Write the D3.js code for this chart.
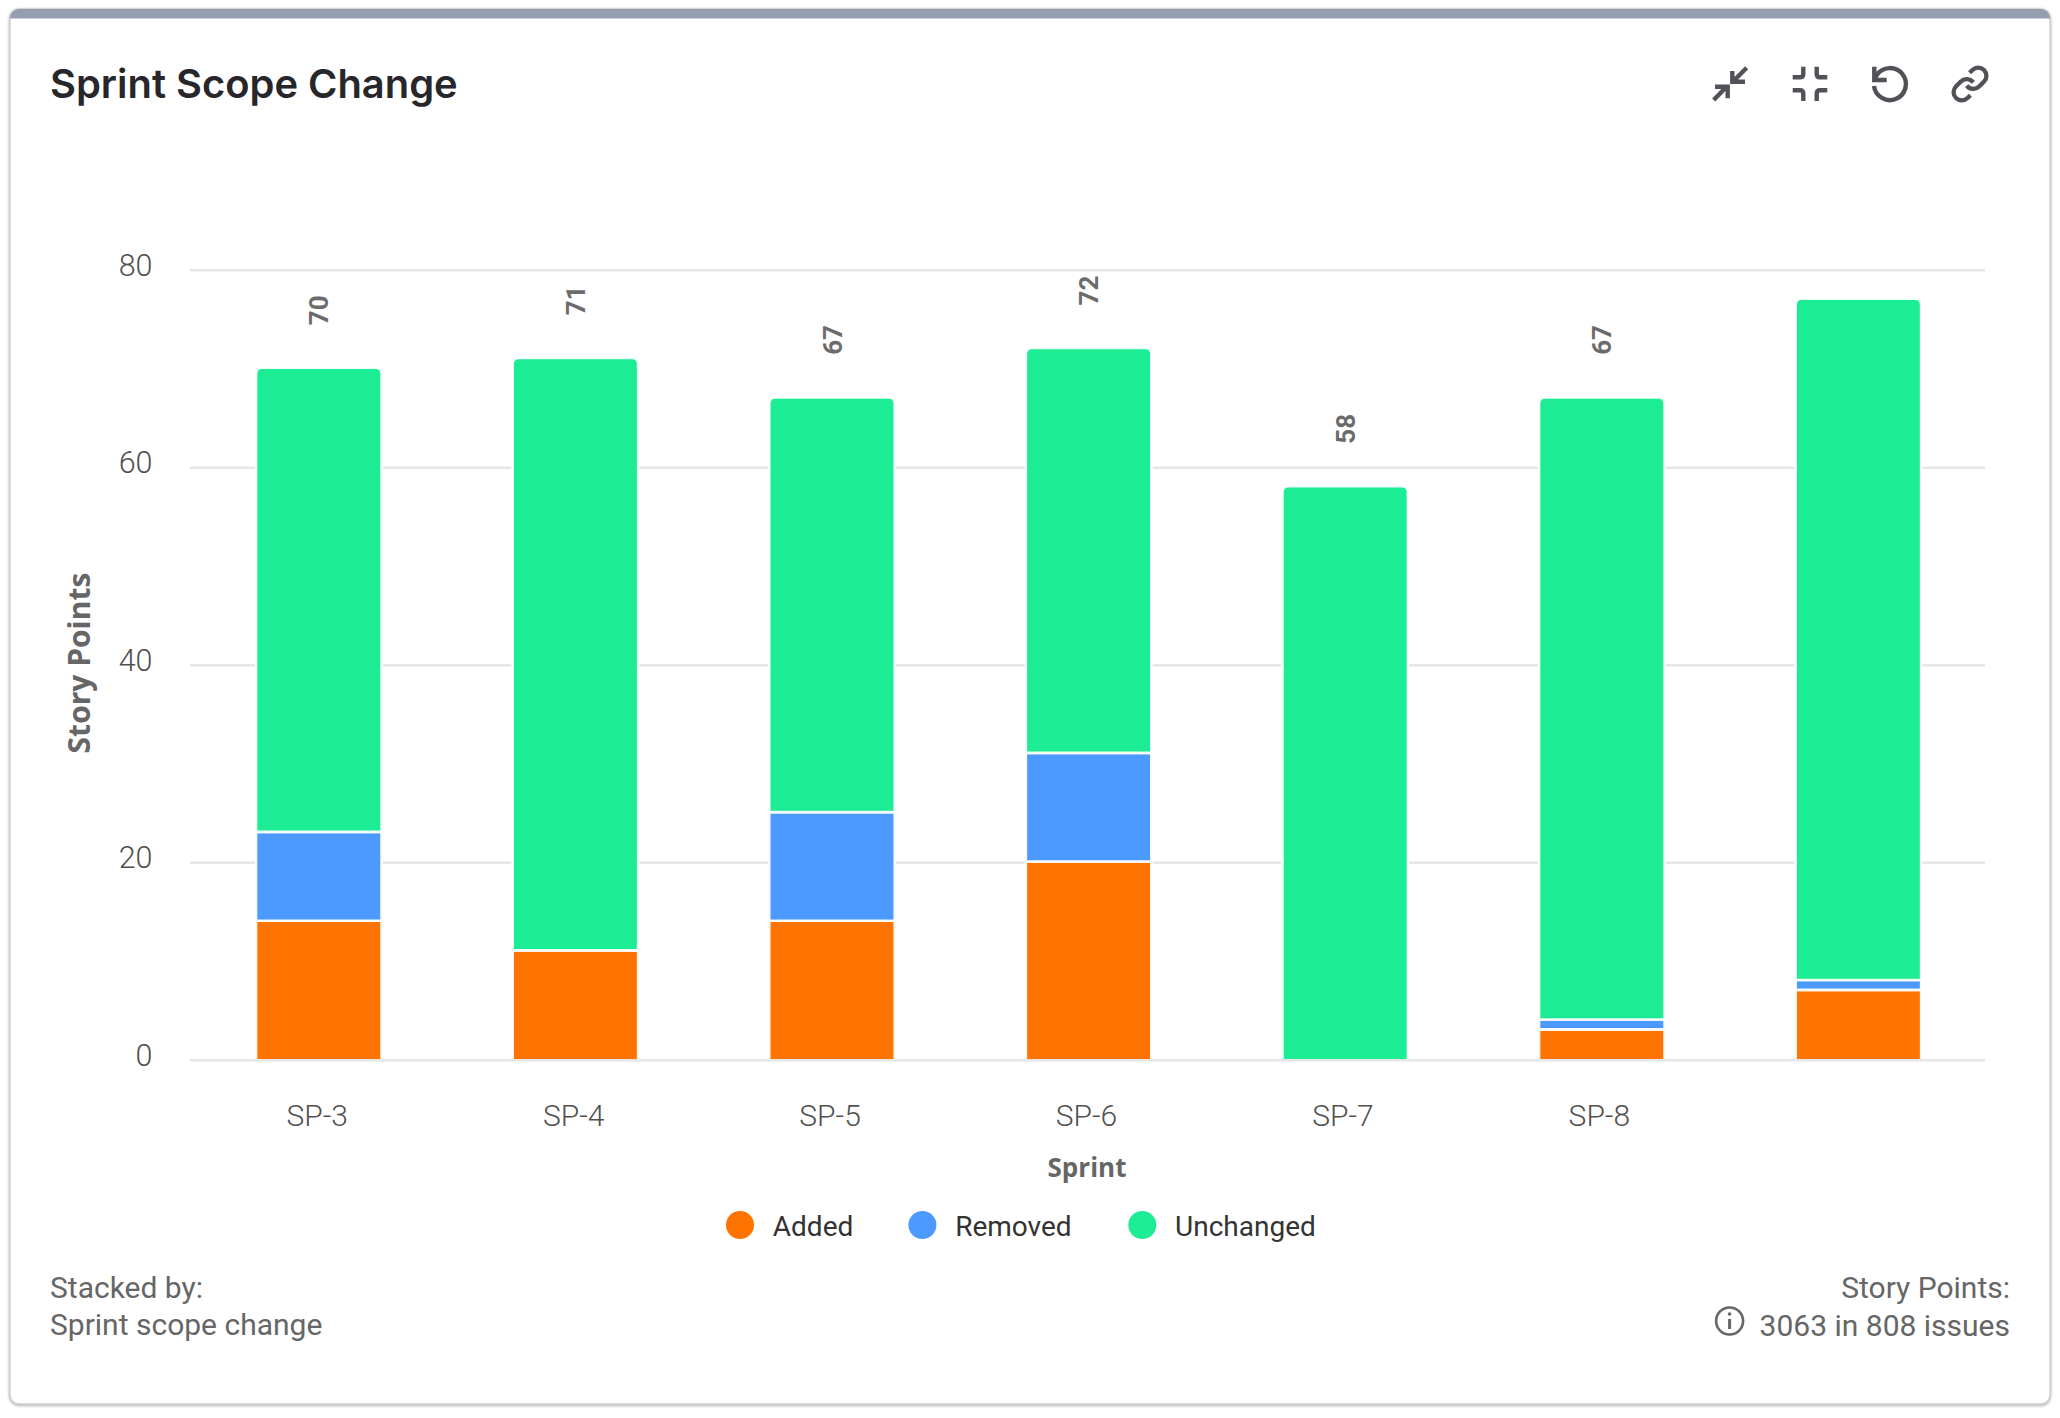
<!DOCTYPE html>
<html>
<head>
<meta charset="utf-8">
<script src="https://cdn.jsdelivr.net/npm/d3@7"></script>
<style>
html,body{margin:0;padding:0;background:#fff}
svg{display:block}
</style>
</head>
<body>
<svg id="chart" width="2060" height="1418"></svg>
<script>
const categories = ["SP-3","SP-4","SP-5","SP-6","SP-7","SP-8",""];
const added     = [14,11,14,20,0,3,7];
const removed   = [9,0,11,11,0,1,1];
const unchanged = [47,60,42,41,58,63,69];
const totalLabels = [70,71,67,72,58,67,null];
const yTicks = [0,20,40,60,80];
const seriesNames = ["Added","Removed","Unchanged"];
const seriesColors = ["#ff7300","#4c9aff","#1cec93"];

const W = 2060, H = 1418;
const svg = d3.select("#chart");
const ROBOTO = "Roboto, sans-serif";

// card
const defs = svg.append("defs");
defs.append("clipPath").attr("id","card-clip").append("rect")
  .attr("x",10).attr("y",9).attr("width",2040).attr("height",1395).attr("rx",9);
svg.append("rect").attr("x",10).attr("y",9).attr("width",2040).attr("height",1395).attr("rx",9)
  .attr("fill","#fff").attr("stroke","#d2d2d2").attr("stroke-width",1.5)
  .style("filter","drop-shadow(0 1.5px 1.5px rgba(0,0,0,.35))");
svg.append("rect").attr("x",9).attr("y",9).attr("width",2042).attr("height",9.5)
  .attr("fill","#959eae").attr("clip-path","url(#card-clip)");

// title
svg.append("text").attr("x",50).attr("y",98).text("Sprint Scope Change")
  .attr("font-family","Inter, sans-serif").attr("font-weight",600).attr("font-size",39.9).attr("fill","#26262b");

// scales
const x = d3.scaleBand().domain(d3.range(categories.length)).range([190,1985]).paddingInner(0.511).paddingOuter(0.2555);
const xBars = d3.scaleBand().domain(d3.range(categories.length)).range([190.5,1986.7]).paddingInner(0.511).paddingOuter(0.2555);
const y = d3.scaleLinear().domain([0,80]).range([1060.3,270.3]);

// grid
const gridG = svg.append("g");
gridG.selectAll("line").data(yTicks.filter(d=>d>0)).join("line")
  .attr("x1",190).attr("x2",1985).attr("y1",d=>y(d)).attr("y2",d=>y(d))
  .attr("stroke","#e6e6e6").attr("stroke-width",2.6);

// stacked bars
const rows = categories.map((c,i)=>({i,Added:added[i],Removed:removed[i],Unchanged:unchanged[i]}));
const stacked = d3.stack().keys(seriesNames)(rows);
const barsG = svg.append("g").attr("transform","translate(0,-1.3)");
const R = 6;
stacked.forEach((layer,si)=>{
  barsG.append("g").selectAll("path").data(layer.filter(d=>d[1]>d[0])).join("path")
    .attr("fill",seriesColors[si]).attr("stroke","#fff").attr("stroke-width",2.6).attr("stroke-opacity",.92)
    .attr("d",d=>{
      const x0 = xBars(d.data.i), w = xBars.bandwidth(), t = y(d[1]);
      const b = y(d[0]) + (d[0]===0 ? 2.6 : 0);
      const p = d3.path();
      if(si===2){
        p.moveTo(x0,b); p.lineTo(x0,t+R);
        p.quadraticCurveTo(x0,t,x0+R,t); p.lineTo(x0+w-R,t);
        p.quadraticCurveTo(x0+w,t,x0+w,t+R); p.lineTo(x0+w,b); p.closePath();
      } else { p.rect(x0,t,w,b-t); }
      return p.toString();
    });
});

// baseline over bars
svg.append("line").attr("x1",190).attr("x2",1985).attr("y1",y(0)).attr("y2",y(0))
  .attr("stroke","#e6e6e6").attr("stroke-width",2.6);

// y tick labels
svg.append("g").selectAll("text").data(yTicks).join("text")
  .attr("x",152.5).attr("y",d=>y(d)+5.5).attr("text-anchor","end").text(d=>d)
  .attr("font-family",ROBOTO).attr("font-weight",300).attr("font-size",30.5).attr("fill","#505050");

// x tick labels
svg.append("g").selectAll("text").data(categories).join("text")
  .attr("x",(d,i)=>x(i)+x.bandwidth()/2-1).attr("y",1126).attr("text-anchor","middle").text(d=>d)
  .attr("font-family",ROBOTO).attr("font-weight",300).attr("font-size",30).attr("fill","#505050");

// totals
svg.append("g").selectAll("text").data(totalLabels.map((v,i)=>({v,i})).filter(d=>d.v!==null)).join("text")
  .attr("transform",d=>`translate(${xBars(d.i)+xBars.bandwidth()/2+9.6},${y(d.v)-58.8}) rotate(-90)`)
  .attr("text-anchor","middle").text(d=>d.v)
  .attr("font-family",ROBOTO).attr("font-weight",700).attr("font-size",26).attr("fill","#6b6b6b");

// axis titles
svg.append("text").attr("x",1087).attr("y",1177).attr("text-anchor","middle").text("Sprint")
  .attr("font-family","'Open Sans', sans-serif").attr("font-weight",700).attr("font-size",26).attr("fill","#666");
svg.append("text").attr("transform","translate(90,663) rotate(-90)").attr("text-anchor","middle").text("Story Points")
  .attr("font-family","'Open Sans', sans-serif").attr("font-weight",700).attr("font-size",30).attr("fill","#666");

// legend
const legendCx = [740,922.4,1142.3];
const legendG = svg.append("g").selectAll("g").data(seriesNames).join("g");
legendG.append("circle").attr("cx",(d,i)=>legendCx[i]).attr("cy",1225).attr("r",14).attr("fill",(d,i)=>seriesColors[i]);
legendG.append("text").attr("x",(d,i)=>legendCx[i]+32.8).attr("y",1236).text(d=>d)
  .attr("font-family",ROBOTO).attr("font-size",28).attr("fill","#333");

// footer
const foot = (t,xp,yp,anchor)=>svg.append("text").attr("x",xp).attr("y",yp).attr("text-anchor",anchor).text(t)
  .attr("font-family",ROBOTO).attr("font-size",30).attr("fill","#666");
foot("Stacked by:",50,1298,"start");
foot("Sprint scope change",50,1335,"start");
foot("Story Points:",2010,1298,"end");
foot("3063 in 808 issues",2010,1335.5,"end");
const info = svg.append("g").attr("transform","translate(1729.6,1321)").attr("fill","none").attr("stroke","#666");
info.append("circle").attr("r",13.5).attr("stroke-width",2.6);
info.append("line").attr("x1",0).attr("x2",0).attr("y1",-2).attr("y2",8).attr("stroke-width",3);
info.append("circle").attr("cy",-7).attr("r",1.8).attr("fill","#666").attr("stroke","none");

// toolbar icons
const iconCenters = [1730,1810,1890,1970];
const icon = i => svg.append("g").attr("transform",`translate(${iconCenters[i]},84)`)
  .attr("fill","none").attr("stroke","#505258").attr("stroke-width",4.4);
icon(0).append("path").attr("d","M16.7-16.3L3.5-3M2.3-13V-2.3H15M-16.3,16L-3.5,2.7M-15,2.7H-2.3V14.3");
icon(1).append("path").attr("d","M-17.3-6.7H-10Q-6.7-6.7-6.7-10V-17.3M6.7-17.3V-10Q6.7-6.7 10-6.7H17.3M-17.3,6.3H-10Q-6.7,6.3-6.7,9.7V17M6.7,17V9.7Q6.7,6.3 10,6.3H17.3");
const undo = icon(2);
undo.append("path").attr("d","M-16,2A16 16 0 1 0-13.3-9L-15.7-4");
undo.append("path").attr("d","M-15.7-17.3V-4H-3.3");
const link = icon(3).attr("transform",`translate(${iconCenters[3]},84) scale(1.65) translate(-12,-12)`).attr("stroke-width",2.6);
link.append("path").attr("d","M10 13a5 5 0 0 0 7.54.54l3-3a5 5 0 0 0-7.07-7.07l-1.72 1.71");
link.append("path").attr("d","M14 11a5 5 0 0 0-7.54-.54l-3 3a5 5 0 0 0 7.07 7.07l1.71-1.71");
</script>
</body>
</html>
